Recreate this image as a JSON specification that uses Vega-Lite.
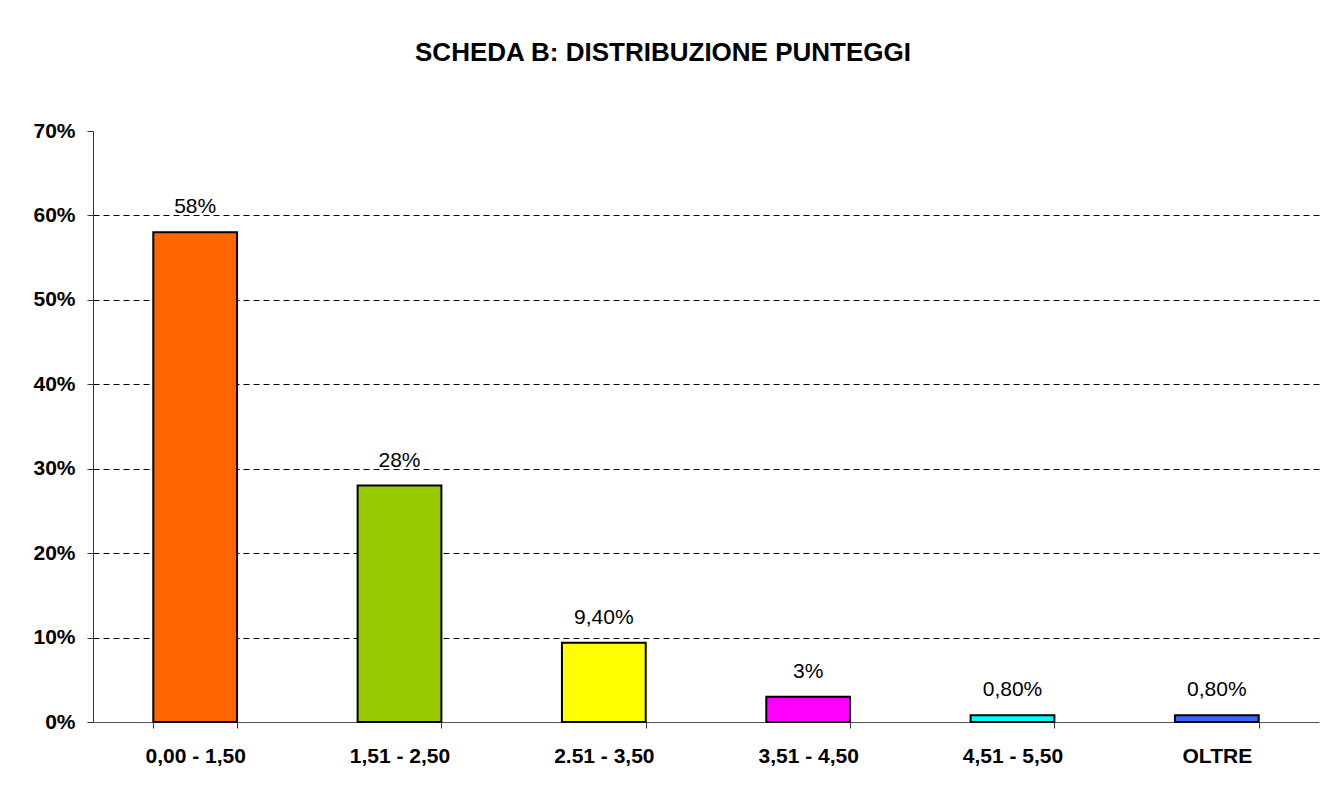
{
  "$schema": "https://vega.github.io/schema/vega-lite/v6.json",
  "width": 1226,
  "height": 591,
  "autosize": {"type": "none"},
  "padding": {"left": 93, "top": 131, "right": 11, "bottom": 72},
  "background": "white",
  "config": {
    "view": {"stroke": null},
    "font": "Liberation Sans"
  },
  "title": {
    "text": "SCHEDA B: DISTRIBUZIONE PUNTEGGI",
    "fontSize": 26,
    "fontWeight": "bold",
    "font": "Liberation Sans",
    "color": "#000000",
    "anchor": "middle",
    "dx": -43,
    "offset": 54
  },
  "data": {
    "values": [
      {"fascia": "0,00 - 1,50", "valore": 0.58, "etichetta": "58%", "colore": "#FF6600"},
      {"fascia": "1,51 - 2,50", "valore": 0.28, "etichetta": "28%", "colore": "#99CC00"},
      {"fascia": "2.51 - 3,50", "valore": 0.094, "etichetta": "9,40%", "colore": "#FFFF00"},
      {"fascia": "3,51 - 4,50", "valore": 0.03, "etichetta": "3%", "colore": "#FF00FF"},
      {"fascia": "4,51 - 5,50", "valore": 0.008, "etichetta": "0,80%", "colore": "#00FFFF"},
      {"fascia": "OLTRE", "valore": 0.008, "etichetta": "0,80%", "colore": "#3366FF"}
    ]
  },
  "encoding": {
    "x": {
      "field": "fascia",
      "type": "nominal",
      "sort": null,
      "scale": {"paddingInner": 0.59, "paddingOuter": 0.295},
      "axis": {
        "title": null,
        "labelAngle": 0,
        "labelFont": "Liberation Sans",
        "labelFontSize": 21,
        "labelFontWeight": "bold",
        "labelColor": "#000000",
        "labelPadding": 17,
        "tickBand": "extent",
        "tickSize": 6,
        "tickColor": "#333333",
        "domainColor": "#555555",
        "grid": false
      }
    },
    "y": {
      "field": "valore",
      "type": "quantitative",
      "scale": {"domain": [0, 0.7]},
      "axis": {
        "title": null,
        "values": [0, 0.1, 0.2, 0.3, 0.4, 0.5, 0.6, 0.7],
        "format": ".0%",
        "labelFont": "Liberation Sans",
        "labelFontSize": 21,
        "labelFontWeight": "bold",
        "labelColor": "#000000",
        "labelPadding": 12,
        "tickSize": 6,
        "tickColor": "#333333",
        "domainColor": "#333333",
        "grid": true,
        "gridColor": "#000000",
        "gridDash": [6, 4],
        "gridWidth": 1,
        "gridOpacity": {"condition": {"test": "datum.value >= 0.69 || datum.value <= 0.001", "value": 0}, "value": 1}
      }
    }
  },
  "layer": [
    {
      "mark": {"type": "bar", "stroke": "#000000", "strokeWidth": 2},
      "encoding": {
        "color": {"field": "colore", "type": "nominal", "scale": null, "legend": null}
      }
    },
    {
      "mark": {"type": "text", "baseline": "alphabetic", "dy": -19, "fontSize": 21, "font": "Liberation Sans", "color": "#000000"},
      "encoding": {
        "text": {"field": "etichetta", "type": "nominal"}
      }
    }
  ]
}
